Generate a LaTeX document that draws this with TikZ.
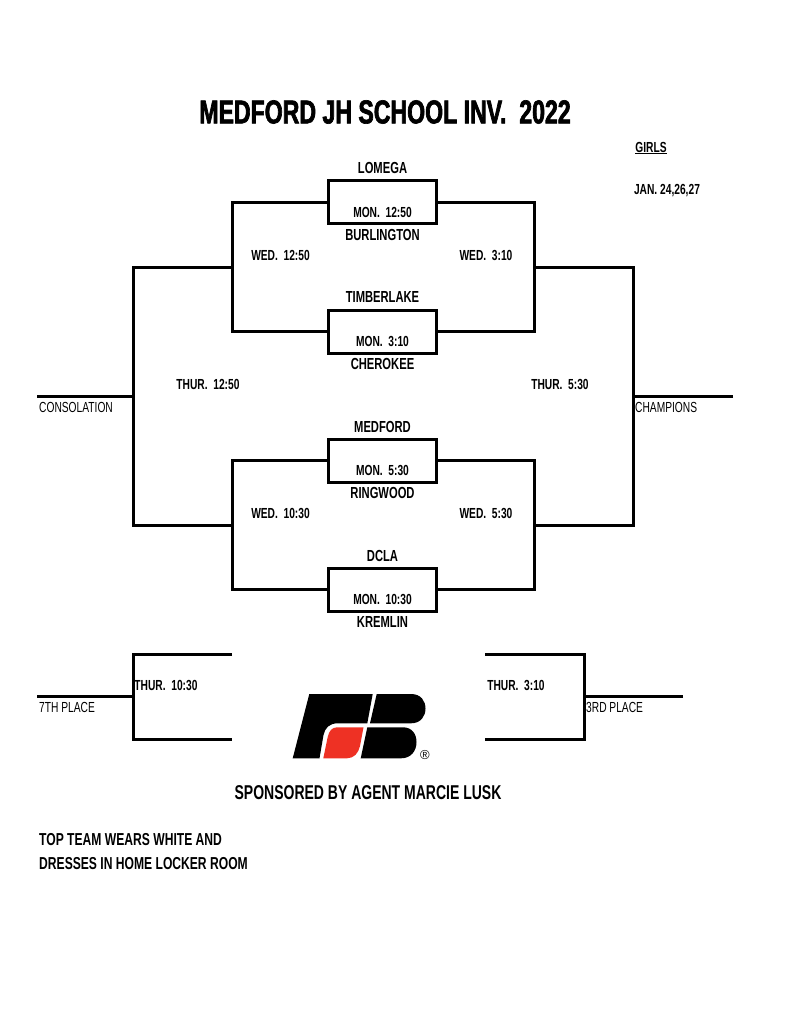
\documentclass[tikz,border=0pt]{standalone}
\usepackage{fontspec}
\setmainfont[FakeStretch=0.7]{Liberation Sans}
\newfontfamily\titlefont[FakeStretch=0.7,FakeBold=2]{Liberation Sans Bold}
\newfontfamily\regfont{Liberation Sans}
\usetikzlibrary{positioning}
\definecolor{logored}{HTML}{EE3124}

\begin{document}
\begin{tikzpicture}[x=1pt,y=-1pt]
\tikzset{line/.style={line width=3pt}}
\tikzset{game/.style={draw,line width=3pt,minimum width=108pt,minimum height=43pt,inner sep=0pt}}
\tikzset{team/.style={font=\bfseries\fontsize{16}{18}\selectfont,inner sep=0pt}}
\tikzset{time/.style={font=\bfseries\fontsize{14.6}{17}\selectfont,inner sep=0pt}}
\tikzset{place/.style={font=\fontsize{14.6}{17}\selectfont,inner sep=0pt,anchor=west}}
\useasboundingbox (0,0) rectangle (797,1024);

\node[font=\titlefont\fontsize{33}{36}\selectfont,inner sep=0pt] (title) at (385,112) {MEDFORD JH SCHOOL INV.\ \ 2022};
\node[time] (girls) at (651,148) {\underline{GIRLS}};
\node[time] (dates) at (667,191) {JAN. 24,26,27};

% first round
\node[game] (g1) at (382,202.5) {};
\node[game] (g2) at (382,331.5) {};
\node[game] (g3) at (382,460.5) {};
\node[game] (g4) at (382,589.5) {};

\node[team] (lomega) at (382.5,168) {LOMEGA};
\node[time] (mon1) at (382.5,212) {MON.\ \ 12:50};
\node[team] (burlington) at (382.5,235) {BURLINGTON};
\node[team] (timberlake) at (382.5,297) {TIMBERLAKE};
\node[time] (mon2) at (382.5,341) {MON.\ \ 3:10};
\node[team] (cherokee) at (382.5,364) {CHEROKEE};
\node[team] (medford) at (382.5,427) {MEDFORD};
\node[time] (mon3) at (382.5,470) {MON.\ \ 5:30};
\node[team] (ringwood) at (382.5,493) {RINGWOOD};
\node[team] (dcla) at (382.5,556) {DCLA};
\node[time] (mon4) at (382.5,599) {MON.\ \ 10:30};
\node[team] (kremlin) at (382.5,622) {KREMLIN};

\node[time] (wed1) at (280.5,255) {WED.\ \ 12:50};
\node[time] (wed2) at (486,255) {WED.\ \ 3:10};
\node[time] (wed3) at (280.5,513) {WED.\ \ 10:30};
\node[time] (wed4) at (486,513) {WED.\ \ 5:30};
\node[time] (thur1) at (208,384) {THUR.\ \ 12:50};
\node[time] (thur2) at (560,384) {THUR.\ \ 5:30};
\node[time] (thur3) at (166,685) {THUR.\ \ 10:30};
\node[time] (thur4) at (516,685) {THUR.\ \ 3:10};

\node[place] (consolation) at (39,407) {CONSOLATION};
\node[place] (champions) at (635,407) {CHAMPIONS};
\node[place] (seventh) at (39,707) {7TH PLACE};
\node[place] (third) at (586,707) {3RD PLACE};

% brackets
\coordinate (lsemi) at (232,267);
\coordinate (rsemi) at (534,267);
\coordinate (lsemib) at (232,525);
\coordinate (rsemib) at (534,525);
\coordinate (lfinal) at (133,396);
\coordinate (rfinal) at (633,396);
\coordinate (lend) at (37,396);
\coordinate (rend) at (733,396);

\draw[line] (g1.west) -| (232,331.5) -- (g2.west);
\draw[line] (g1.east) -| (534,331.5) -- (g2.east);
\draw[line] (g3.west) -| (232,589.5) -- (g4.west);
\draw[line] (g3.east) -| (534,589.5) -- (g4.east);
\draw[line] (lsemi) -| (lfinal) |- (lsemib);
\draw[line] (rsemi) -| (rfinal) |- (rsemib);
\draw[line] (lend) -- (lfinal);
\draw[line] (rend) -- (rfinal);

% lower brackets
\coordinate (s7a) at (232,654);
\coordinate (s7b) at (232,739);
\coordinate (s7m) at (133,696);
\coordinate (s7e) at (37,696);
\coordinate (s3a) at (485,654);
\coordinate (s3b) at (485,739);
\coordinate (s3m) at (584,696);
\coordinate (s3e) at (683,696);
\draw[line] (s7a) -| (s7m) |- (s7b);
\draw[line] (s3a) -| (s3m) |- (s3b);
\draw[line] (s7e) -- (s7m);
\draw[line] (s3e) -- (s3m);

% logo
\fill (309.3,694) -- (372.7,694) -- (367.3,723.3) -- (338,723.3) .. controls (329,723.3) and (325,728) .. (323.5,735) -- (319.5,758.3) -- (292.7,758.3) -- cycle;
\fill (376.7,694) -- (411,694) .. controls (421,694) and (425.5,701) .. (425.5,708.5) .. controls (425.5,716) and (421,723.3) .. (411,723.3) -- (370,723.3) -- cycle;
\fill (367.3,727.3) -- (403,727.3) .. controls (412,727.3) and (416.5,734) .. (416.5,742) .. controls (416.5,751) and (411,758.3) .. (401,758.3) -- (360.7,758.3) -- cycle;
\fill[logored] (337,727.3) -- (363.5,727.3) -- (360,746) .. controls (358.5,753) and (354,758.3) .. (347,758.3) -- (323.3,758.3) -- (327.7,737) .. controls (329,731) and (332,727.3) .. (337,727.3) -- cycle;
\node[inner sep=0pt,font=\regfont\fontsize{13}{15}\selectfont] (reg) at (425,755) {®};

\node[font=\bfseries\fontsize{20}{22}\selectfont,inner sep=0pt] (sponsor) at (368,793) {SPONSORED BY AGENT MARCIE LUSK};
\node[font=\bfseries\fontsize{17.3}{24}\selectfont,inner sep=0pt,anchor=north west,align=left] (note) at (39,833.5) {TOP TEAM WEARS WHITE AND\\DRESSES IN HOME LOCKER ROOM};
\end{tikzpicture}
\end{document}
